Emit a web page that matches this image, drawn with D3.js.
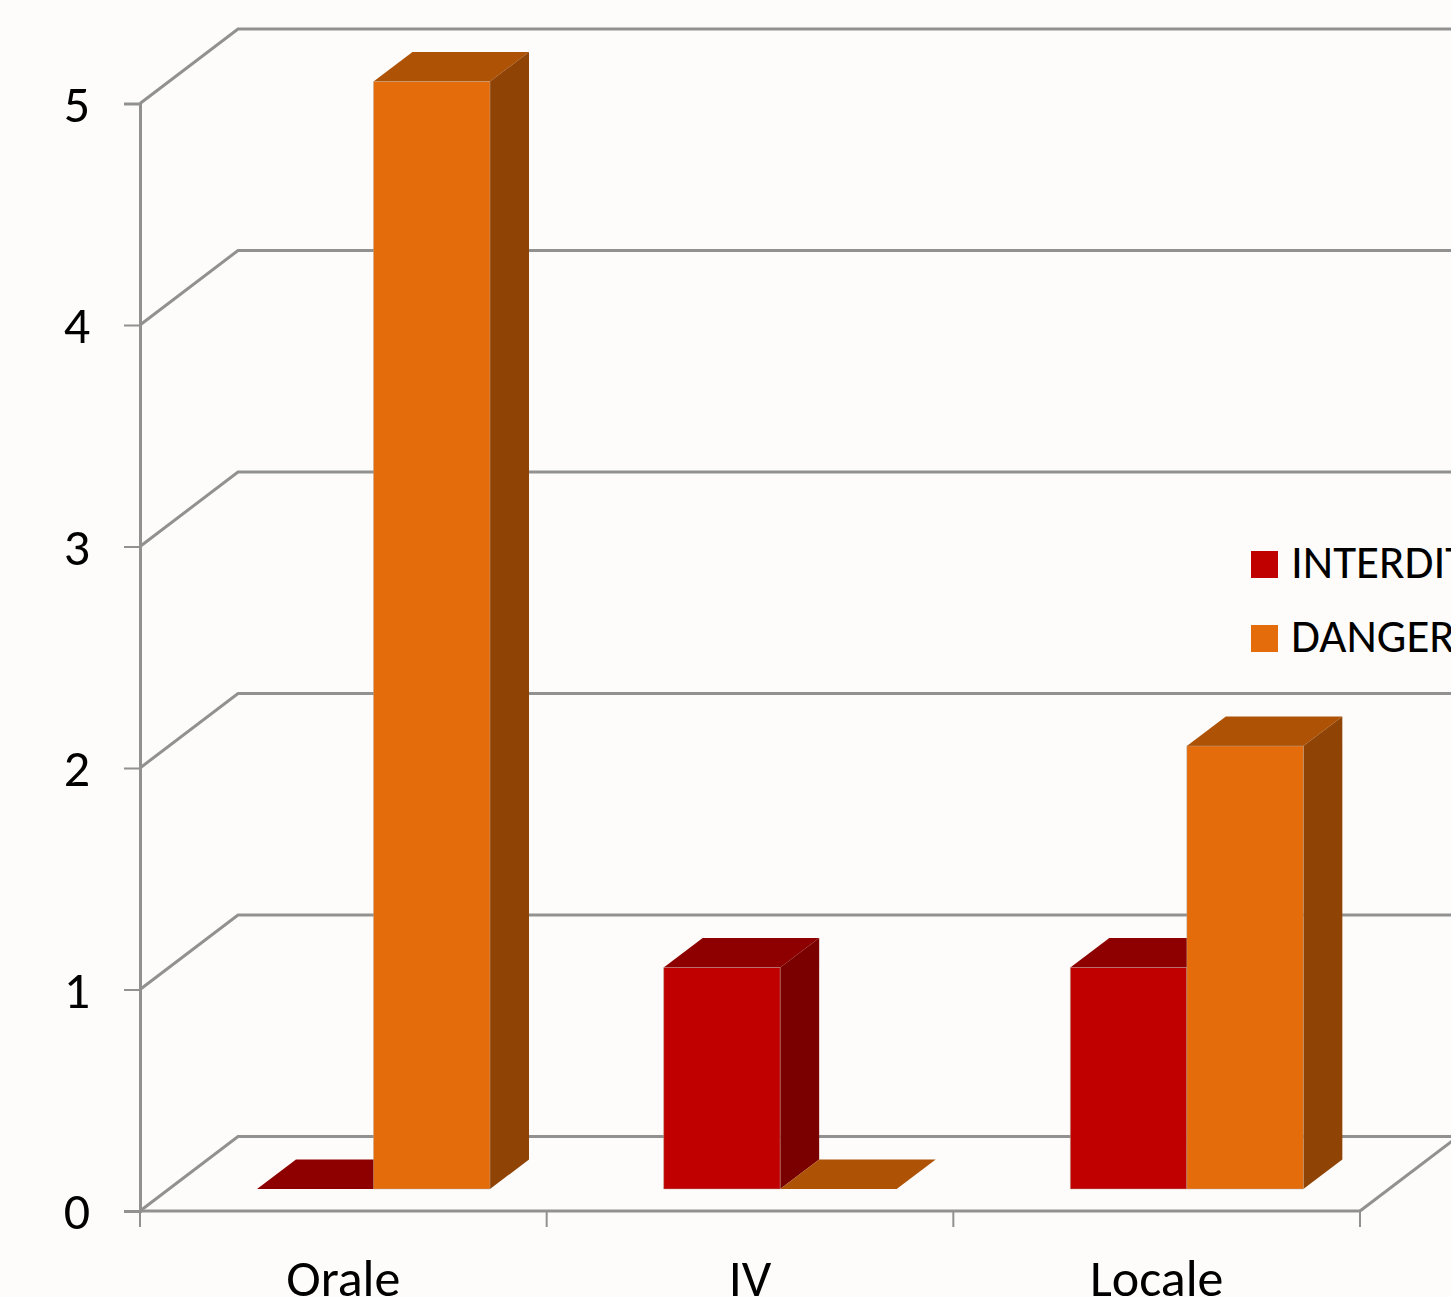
<!DOCTYPE html>
<html>
<head>
<meta charset="utf-8">
<script src="https://cdn.jsdelivr.net/npm/d3@7/dist/d3.min.js"></script>
<style>
html,body{margin:0;padding:0;background:#fdfcfa;overflow:hidden}
svg{display:block}
text{font-family:Carlito,Lato,"Open Sans",sans-serif;fill:#000}
</style>
</head>
<body>
<div id="chart"></div>
<script>
const categories = ["Orale", "IV", "Locale"];
const seriesNames = ["INTERDIT", "DANGEREUX"];
const interdit = [0, 1, 1];
const dangereux = [5, 0, 2];
const yTicks = [0, 1, 2, 3, 4, 5];

const frontColors = ["#c00000", "#e46c0a"];
const topColors = ["#8e0000", "#ae5206"];
const sideColors = ["#7a0000", "#8f4304"];
const gridColor = "#919191";

const width = 1451, height = 1297;
const svg = d3.select("#chart").append("svg").attr("width", width).attr("height", height);

const x = d3.scaleBand().domain(categories).range([140, 1360]);
const y = d3.scaleLinear().domain([0, 5]).range([1211, 103.5]);
// The bar pair sits right of the band centre, leaving room for the bar depth
const series = d3.scaleBand().domain(seriesNames).range([117, 350]);

// Oblique projection: wall depth, and the smaller bar depth and lift off the floor
const wall = {dx: 98, dy: -74.5};
const barDepth = {dx: 39, dy: -29.5};
const barLift = -22;

// Back wall gridlines, side wall slants and the floor's right edge
const grid = svg.append("g").attr("fill", "none").attr("stroke", gridColor).attr("stroke-width", 3);
grid.selectAll("path.wall").data(yTicks).join("path").attr("class", "wall")
  .attr("d", d => d3.line()([
    [x.range()[0], y(d)],
    [x.range()[0] + wall.dx, y(d) + wall.dy],
    [width + 10, y(d) + wall.dy]
  ]));
grid.append("path").attr("d", d3.line()([
  [x.range()[1], y(0)],
  [x.range()[1] + wall.dx, y(0) + wall.dy]
]));

// Axes
const axisY = d3.axisLeft(y).tickValues(yTicks).tickSize(16).tickPadding(34).tickFormat(d3.format("d"));
const axisX = d3.axisBottom(x).tickSize(0).tickPadding(48);

const gy = svg.append("g").attr("transform", `translate(${x.range()[0]},0)`).call(axisY);
gy.select(".domain").attr("stroke", gridColor).attr("stroke-width", 3);
gy.selectAll("line").attr("stroke", gridColor).attr("stroke-width", 2);
gy.selectAll("text").attr("font-size", 52).attr("font-family", null).attr("dy", "0.34em");

const gx = svg.append("g").attr("transform", `translate(0,${y(0)})`).call(axisX);
gx.select(".domain").attr("stroke", gridColor).attr("stroke-width", 3).attr("d", `M${x.range()[0]},0H${x.range()[1]}`);
gx.selectAll("text").attr("font-size", 52).attr("font-family", null).attr("dy", "0.71em");
gx.selectAll("line.boundary")
  .data([...categories.map(c => x(c)), x.range()[1]])
  .join("line").attr("class", "boundary")
  .attr("x1", d => d).attr("x2", d => d).attr("y1", 0).attr("y2", 16)
  .attr("stroke", gridColor).attr("stroke-width", 2);

// Bars: top, side and front faces, one series after the other
const rows = categories.flatMap((c, i) => [
  {category: c, s: 0, value: interdit[i]},
  {category: c, s: 1, value: dangereux[i]}
]);
const bars = svg.append("g").attr("stroke-linejoin", "round");
const bar = bars.selectAll("g").data(rows).join("g");

const geom = d => {
  const x0 = x(d.category) + series(seriesNames[d.s]);
  const x1 = x0 + series.bandwidth();
  const y0 = y(0) + barLift;
  const y1 = y(d.value) + barLift;
  return {x0, x1, y0, y1};
};

bar.append("path").attr("fill", d => topColors[d.s])
  .attr("d", d => {
    const g = geom(d);
    return d3.line()([[g.x0, g.y1], [g.x1, g.y1],
      [g.x1 + barDepth.dx, g.y1 + barDepth.dy], [g.x0 + barDepth.dx, g.y1 + barDepth.dy]]) + "Z";
  });
bar.filter(d => d.value > 0).append("path").attr("fill", d => sideColors[d.s])
  .attr("d", d => {
    const g = geom(d);
    return d3.line()([[g.x1, g.y1], [g.x1 + barDepth.dx, g.y1 + barDepth.dy],
      [g.x1 + barDepth.dx, g.y0 + barDepth.dy], [g.x1, g.y0]]) + "Z";
  });
bar.filter(d => d.value > 0).append("rect")
  .attr("x", d => geom(d).x0).attr("y", d => geom(d).y1)
  .attr("width", d => geom(d).x1 - geom(d).x0)
  .attr("height", d => geom(d).y0 - geom(d).y1)
  .attr("fill", d => frontColors[d.s])
  .attr("stroke", "#b5aaa0").attr("stroke-opacity", 0.45).attr("stroke-width", 1);

// Legend
const legend = svg.append("g").selectAll("g").data(seriesNames).join("g")
  .attr("transform", (d, i) => `translate(1251,${551 + i * 74})`);
legend.append("rect").attr("width", 27).attr("height", 27).attr("fill", (d, i) => frontColors[i]);
legend.append("text").attr("x", 40).attr("y", 27).attr("font-size", 47).text(d => d);
</script>
</body>
</html>
